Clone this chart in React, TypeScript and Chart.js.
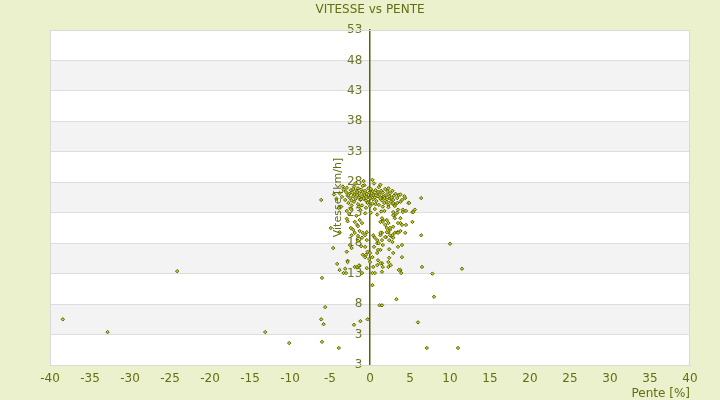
import { useEffect, useRef } from 'react';
import { Chart, registerables } from 'chart.js';

Chart.register(...registerables);

// pente [%], vitesse [km/h]
const outliers: [number, number][] = [
  [-38.4, 5.5], [-32.8, 3.4], [-24.1, 13.4], [-13.1, 3.4], [-10.1, 1.6], [-6.1, 25.1],
  [-6.0, 12.3], [-5.6, 7.5], [-6.1, 5.5], [-5.8, 4.7], [-6.0, 1.8], [-3.9, 0.8],
  [-2.0, 4.6], [-1.2, 5.2], [-0.3, 5.5], [1.2, 7.8], [1.5, 7.8], [3.3, 8.8],
  [8.0, 9.2], [6.0, 5.0], [7.1, 0.8], [11.0, 0.8], [10.0, 17.9], [11.5, 13.8],
  [7.8, 13.0], [6.5, 14.1], [6.4, 25.4], [6.4, 19.3], [0.3, 11.1],
];

const middle: [number, number][] = [
  [-4.6, 17.2], [-4.1, 14.6], [-3.8, 13.6], [-3.1, 13.8], [-3.3, 13.1], [-2.8, 15.1],
  [-2.9, 16.6], [-2.3, 17.2], [-1.9, 14.1], [-1.3, 14.3], [-4.9, 20.5], [-2.9, 22.0],
  [-1.9, 21.5], [-1.6, 21.0], [-2.1, 20.2], [-2.3, 19.3], [-1.9, 19.7], [-1.3, 21.8],
  [-1.0, 21.3], [-0.9, 19.7], [-0.4, 18.5], [-0.6, 17.4], [-0.9, 16.1], [-0.6, 15.7],
  [-0.3, 16.6], [-0.1, 15.4], [0.0, 14.9], [-0.4, 13.9], [0.3, 13.1], [0.4, 14.1],
  [0.9, 14.4], [1.0, 15.2], [1.5, 14.7], [1.3, 16.9], [0.5, 17.4], [0.9, 18.0],
  [0.9, 18.5], [1.3, 19.3], [1.5, 19.7], [2.0, 19.0], [2.3, 19.8], [2.1, 20.5],
  [2.5, 20.2], [2.9, 20.7], [1.9, 21.0], [1.6, 21.8], [1.3, 21.5], [1.5, 22.1],
  [2.3, 14.1], [2.6, 14.4], [2.4, 17.0], [2.9, 16.4], [2.4, 18.5], [2.8, 18.2],
  [3.5, 17.4], [3.8, 13.6], [4.0, 17.7], [3.1, 19.7], [3.4, 19.8], [2.8, 19.0],
  [2.9, 18.9], [3.8, 21.3], [4.0, 21.0], [4.5, 21.0], [4.4, 19.7], [5.3, 21.5],
  [2.9, 23.1], [3.1, 22.6], [3.4, 23.0], [3.5, 23.5], [4.1, 23.5], [4.5, 23.3],
  [5.3, 23.1], [3.8, 24.8], [4.0, 25.1], [4.4, 25.4], [4.8, 24.6], [5.6, 23.5],
  [3.4, 24.6], [3.1, 24.3], [2.5, 25.4], [2.1, 24.8], [1.6, 25.6], [2.3, 24.3],
  [4.9, 24.6], [5.4, 23.1], [4.1, 23.1], [2.9, 24.4], [2.9, 22.6], [3.1, 22.1],
  [3.8, 22.1], [3.5, 21.3], [2.1, 21.8], [2.3, 21.3], [1.6, 21.5], [2.5, 20.5],
  [2.1, 19.8], [2.8, 19.3], [3.5, 19.7], [4.0, 15.7], [2.3, 14.9], [1.6, 14.1],
  [1.6, 17.7], [0.9, 16.4], [1.0, 16.9], [0.0, 16.4], [0.3, 15.7], [-0.5, 16.1],
  [-2.8, 14.9], [-1.6, 14.1], [-1.4, 14.3], [-3.0, 13.1], [-1.0, 13.1], [0.6, 13.1],
  [1.5, 13.3], [1.3, 14.7], [2.4, 15.6], [3.6, 13.6], [3.9, 13.1], [-1.5, 19.2],
  [-1.0, 18.9], [-0.6, 19.3], [-0.4, 19.8], [0.4, 19.3], [0.6, 18.9], [1.1, 18.0],
  [1.5, 18.5], [1.9, 19.0], [1.3, 19.7], [2.5, 19.3], [3.8, 20.0], [-3.8, 19.8],
  [-2.8, 21.6], [-2.4, 20.5], [-1.5, 20.8], [-1.3, 20.0], [-1.5, 18.4], [-2.5, 17.7],
  [-1.1, 17.5],
];

const cluster: [number, number][] = [
  [-3.8, 26.2], [-3.5, 25.6], [-3.3, 26.8], [-3.1, 25.1], [-3.0, 26.4], [-2.9, 27.1],
  [-2.8, 25.8], [-2.7, 24.6], [-2.6, 26.1], [-2.5, 25.4], [-2.4, 26.7], [-2.3, 25.0],
  [-2.2, 26.3], [-2.1, 25.7], [-2.0, 27.3], [-2.0, 24.8], [-1.9, 26.0], [-1.8, 25.3],
  [-1.7, 26.6], [-1.6, 25.9], [-1.5, 24.4], [-1.5, 27.0], [-1.4, 25.5], [-1.3, 26.2],
  [-1.2, 25.1], [-1.1, 26.8], [-1.0, 25.7], [-1.0, 24.2], [-0.9, 26.4], [-0.8, 25.3],
  [-0.7, 27.5], [-0.7, 25.9], [-0.6, 26.6], [-0.5, 25.0], [-0.4, 26.1], [-0.3, 25.6],
  [-0.2, 27.0], [-0.2, 24.7], [-0.1, 26.3], [0.0, 25.4], [0.1, 26.9], [0.2, 25.8],
  [0.3, 24.5], [0.3, 26.5], [0.4, 25.2], [0.5, 27.8], [0.5, 26.0], [0.6, 25.5],
  [0.7, 26.7], [0.8, 24.9], [0.9, 26.2], [1.0, 25.7], [1.1, 27.2], [1.1, 24.3],
  [1.2, 26.0], [1.3, 25.3], [1.4, 26.6], [1.5, 25.0], [1.6, 26.3], [1.7, 25.6],
  [1.8, 24.6], [1.9, 26.9], [2.0, 25.9], [2.1, 25.2], [2.2, 26.5], [2.3, 23.9],
  [2.4, 25.7], [2.5, 26.2], [2.6, 24.8], [2.7, 25.5], [2.8, 26.6], [2.9, 25.1],
  [3.0, 25.8], [3.1, 24.1], [3.2, 26.1], [3.4, 25.4], [3.6, 25.9], [-3.6, 24.0],
  [-2.4, 23.6], [-1.2, 23.4], [-0.5, 23.8], [0.6, 23.6], [1.4, 23.2], [-4.2, 25.3],
  [-4.5, 26.0], [-0.8, 28.2], [0.3, 28.4], [-1.8, 27.8], [-2.9, 23.3], [-3.9, 23.8],
  [-2.6, 22.8], [-1.7, 22.5], [-0.6, 22.9], [0.1, 23.0], [0.9, 22.7], [1.8, 23.3],
  [-1.4, 24.0], [0.0, 24.1], [1.6, 24.0], [-0.3, 24.6], [0.7, 24.4], [-2.3, 24.2],
  [-0.9, 27.4], [1.3, 27.6], [2.3, 27.0], [-3.4, 27.3], [-2.1, 26.9], [-1.1, 25.2],
  [0.4, 25.9], [1.0, 26.4], [-0.5, 25.6], [0.2, 26.2], [-1.6, 26.4], [1.8, 25.4],
  [-2.7, 25.9], [2.9, 24.6], [3.8, 26.0], [4.3, 25.7],
];

// tick labels from bottom (-2) to top (53), as printed on the original
const yTickLabels = ['3', '3', '8', '13', '18', '23', '28', '33', '38', '43', '48', '53'];

const TEXT = '#646e10';
const FONT = 'DejaVu Sans';

const plotDecor = {
  id: 'plotDecor',
  beforeDraw(chart: any) {
    const { ctx, chartArea: a, scales } = chart;
    const y = scales.y;
    ctx.save();
    ctx.fillStyle = '#ffffff';
    ctx.fillRect(a.left, a.top, a.right - a.left, a.bottom - a.top);
    ctx.fillStyle = '#f3f3f3';
    const ticks = y.ticks;
    for (let i = 1; i < ticks.length - 1; i += 2) {
      const y1 = y.getPixelForValue(ticks[i].value);
      const y2 = y.getPixelForValue(ticks[i + 1].value);
      ctx.fillRect(a.left, y2, a.right - a.left, y1 - y2);
    }
    ctx.restore();
  },
  beforeDatasetsDraw(chart: any) {
    const { ctx, chartArea: a } = chart;
    ctx.save();
    ctx.strokeStyle = '#d9d9d9';
    ctx.lineWidth = 1;
    ctx.strokeRect(a.left + 0.5, a.top + 0.5, a.right - a.left - 1, a.bottom - a.top);
    ctx.restore();
  },
  afterDraw(chart: any) {
    const { ctx, chartArea: a, scales } = chart;
    const x0 = scales.x.getPixelForValue(0);
    ctx.save();
    ctx.translate(x0 - 32, (a.top + a.bottom) / 2);
    ctx.rotate(-Math.PI / 2);
    ctx.fillStyle = TEXT;
    ctx.font = `11px "${FONT}"`;
    ctx.textAlign = 'center';
    ctx.textBaseline = 'middle';
    ctx.fillText('Vitesse [km/h]', 0, 0);
    ctx.restore();
  },
};

export default function App() {
  const canvasRef = useRef<HTMLCanvasElement>(null);

  useEffect(() => {
    if (!canvasRef.current) return;
    const toXY = (p: [number, number]) => ({ x: p[0], y: p[1] });
    const chart = new Chart(canvasRef.current, {
      type: 'scatter',
      data: {
        datasets: [{
          label: 'Vitesse',
          data: [...outliers, ...middle, ...cluster].map(toXY),
          pointStyle: 'rectRot',
          pointRadius: 1.7,
          borderWidth: 1,
          borderColor: '#5a6300',
          backgroundColor: '#c9cf2a',
        }],
      },
      options: {
        responsive: false,
        animation: false,
        layout: { padding: { left: 50, right: 30, top: 0, bottom: 0 } },
        plugins: {
          legend: { display: false },
          tooltip: { enabled: false },
          title: {
            display: true,
            text: 'VITESSE vs PENTE',
            color: TEXT,
            font: { family: FONT, size: 12, weight: 'normal', lineHeight: 1.2 },
            padding: { top: 3, bottom: 12.6 },
          },
        },
        scales: {
          x: {
            type: 'linear',
            min: -40,
            max: 40,
            afterFit: (s: any) => { s.height = 35; },
            grid: { display: true, drawOnChartArea: false, drawTicks: false },
            border: { display: true, color: '#d9d9d9' },
            ticks: {
              stepSize: 5,
              autoSkip: false,
              maxRotation: 0,
              padding: 7,
              color: TEXT,
              font: { family: FONT, size: 12, lineHeight: 1.2 },
            },
            title: {
              display: true,
              text: 'Pente [%]',
              align: 'end',
              color: TEXT,
              padding: { top: 0, bottom: -1 },
              font: { family: FONT, size: 12, lineHeight: 1.2 },
            },
          },
          y: {
            type: 'linear',
            min: -2,
            max: 53,
            position: { x: 0 } as any,
            grid: { color: '#dddddd', lineWidth: 1 },
            border: { display: true, color: '#5c6400', width: 1.5 },
            ticks: {
              stepSize: 5,
              autoSkip: false,
              color: '#6e7528',
              font: { family: FONT, size: 12 },
              callback: (_v: any, i: number) => yTickLabels[i] + '  ',
            },
          },
        },
      },
      plugins: [plotDecor],
    });
    return () => chart.destroy();
  }, []);

  return (
    <div style={{ position: 'absolute', left: 0, top: 0, width: 720, height: 400, background: '#ebf0cd' }}>
      <canvas ref={canvasRef} width={720} height={400} style={{ display: 'block' }} />
    </div>
  );
}
